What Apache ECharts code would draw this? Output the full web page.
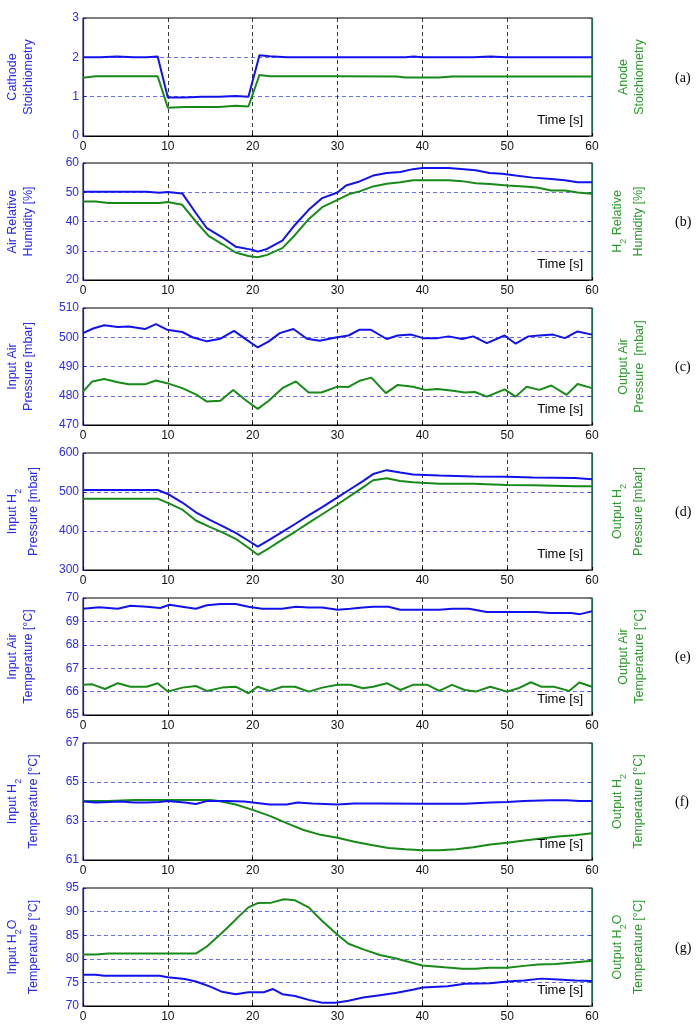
<!DOCTYPE html>
<html>
<head>
<meta charset="utf-8">
<script src="https://cdn.jsdelivr.net/npm/echarts@6/dist/echarts.min.js"></script>
<style>
html, body { margin: 0; padding: 0; background: #fff; }
#main { width: 696px; height: 1031px; }
</style>
</head>
<body>
<div id="main"></div>
<script>
// (a) stoichiometry
const tCathode = [0, 2, 4, 6, 7.5, 8.8, 10, 12, 14, 16, 18, 19.5, 20.8, 22, 24, 30, 38, 39, 40, 46, 48, 50, 60]
const cathode = [2.0, 2.0, 2.02, 2.0, 2.0, 2.02, 0.98, 0.98, 1.0, 1.0, 1.02, 1.0, 2.05, 2.03, 2.0, 2.0, 2.0, 2.02, 2.0, 2.0, 2.02, 2.0, 2.0]
const tAnode = [0, 1.5, 8.8, 10, 12, 16, 18, 19.5, 20.8, 22, 30, 37, 38, 42, 43.5, 60]
const anode = [1.48, 1.52, 1.52, 0.72, 0.74, 0.74, 0.77, 0.75, 1.55, 1.52, 1.52, 1.51, 1.49, 1.49, 1.51, 1.51]

// (b) relative humidity
const tAirRH = [0, 7.5, 9, 10, 11.7, 13.3, 14.6, 16.4, 18, 20, 20.6, 21.7, 23.5, 25, 26.6, 28.2, 30, 31, 32.6, 34.2, 35.8, 37.4, 38.9, 40, 43.1, 46.3, 47.9, 49.4, 51, 53, 55.2, 56.8, 58.3, 60]
const airRH = [50.2, 50.2, 49.8, 50.1, 49.6, 42.9, 37.7, 34.6, 31.4, 30.3, 29.7, 30.6, 33.5, 38.9, 44, 48, 49.9, 52.3, 53.7, 55.7, 56.6, 56.9, 57.9, 58.3, 58.3, 57.5, 56.6, 56.3, 55.7, 55, 54.5, 54.1, 53.4, 53.4]
const tH2RH = [0, 1.5, 3, 9, 10, 11.7, 13.3, 14.8, 16.4, 18, 19.5, 20.6, 21.7, 23.5, 25, 26.6, 28.2, 30, 31.5, 32.6, 34.2, 35.8, 37.4, 38.9, 40, 43.1, 44.7, 46.3, 48, 50, 52, 53.5, 55.2, 56.8, 58.3, 60]
const h2RH = [46.8, 46.8, 46.3, 46.3, 46.7, 45.7, 40, 35.1, 32.3, 29.4, 28.2, 27.8, 28.6, 30.9, 35.4, 40.8, 44.9, 47.4, 49.5, 50.3, 52, 52.9, 53.4, 54.1, 54.1, 54.1, 53.8, 53.1, 52.8, 52.3, 52, 51.6, 50.6, 50.6, 49.9, 49.5]

// (c) air pressure
const tInAir = [0, 1.2, 2.5, 4.1, 5.4, 7.3, 8.6, 9.9, 11.7, 13, 14.6, 16.2, 17.8, 19.3, 20.6, 21.9, 23.2, 24.8, 26.4, 27.9, 29.8, 31.3, 32.6, 33.9, 35.8, 37.1, 38.7, 40.1, 41.8, 43.1, 44.7, 46, 47.6, 49.7, 51, 52.5, 53.8, 55.4, 56.8, 58.3, 60]
const inAir = [501.4, 503, 504.1, 503.5, 503.7, 502.8, 504.5, 502.6, 501.8, 499.9, 498.6, 499.5, 502.2, 499.1, 496.5, 498.6, 501.4, 502.8, 499.5, 498.8, 499.9, 500.6, 502.6, 502.6, 499.4, 500.6, 500.9, 499.7, 499.7, 500.3, 499.4, 500.3, 498, 500.6, 497.8, 500.3, 500.6, 500.9, 499.7, 502, 500.9]
const tOutAir = [0, 1.1, 2.5, 4.1, 5.4, 7.3, 8.6, 9.9, 11.7, 13.3, 14.6, 16.2, 17.7, 19.3, 20.6, 21.9, 23.5, 25.1, 26.6, 28.1, 30, 31.3, 32.6, 34, 35.7, 37.1, 38.9, 40.3, 41.8, 43.6, 45, 46.2, 47.6, 49.7, 51, 52.3, 53.8, 55.2, 57, 58.3, 60]
const outAir = [481.4, 484.9, 485.7, 484.6, 483.9, 483.9, 485.2, 484.3, 482.6, 480.5, 478, 478.3, 482, 478.2, 475.5, 478.3, 482.6, 484.9, 481.1, 481.1, 483.1, 483, 485.1, 486.2, 480.9, 483.7, 483.1, 482, 482.3, 481.7, 481.1, 481.3, 479.7, 482.2, 479.7, 483.1, 482, 483.5, 480.3, 484, 482.6]

// (d) H2 pressure
const tH2P = [0, 8.8, 10, 11.7, 13.3, 15, 16.5, 18, 19.5, 20.6, 22, 23.5, 25, 26.6, 28.2, 30, 31.5, 33, 34.2, 35.8, 37.4, 38.9, 42, 46, 50, 53, 58, 60]
const inH2P = [505, 505, 495, 473, 448, 428, 412, 395, 375, 360, 378, 398, 418, 440, 461, 486, 507, 528, 546, 556, 550, 545, 542, 540, 539, 537, 536, 533]
const outH2P = [483, 483, 472, 455, 427, 410, 396, 380, 357, 339, 357, 378, 398, 421, 443, 468, 490, 512, 530, 535, 528, 525, 521, 521, 518, 517, 515, 515]

// (e) air temperature
const tInAirT = [0, 1.9, 4.1, 5.6, 7.5, 9.1, 10.2, 11.7, 13.3, 14.6, 16.2, 18, 19.5, 21.1, 23.5, 25.1, 26.6, 28.2, 30, 31.5, 33, 34.2, 36, 37.4, 40, 42, 43.5, 45.5, 47.6, 50, 53.5, 55, 57.5, 58.6, 60]
const inAirT = [69.54, 69.6, 69.54, 69.67, 69.63, 69.57, 69.71, 69.63, 69.54, 69.69, 69.74, 69.74, 69.63, 69.54, 69.54, 69.63, 69.59, 69.59, 69.5, 69.54, 69.59, 69.63, 69.63, 69.5, 69.5, 69.5, 69.54, 69.54, 69.4, 69.4, 69.4, 69.36, 69.36, 69.31, 69.43]
const tOutAirT = [0, 1.1, 2.6, 4.1, 5.6, 7.5, 8.8, 10, 11.7, 13.3, 14.6, 16.4, 18, 19.5, 20.6, 22, 23.5, 25, 26.6, 28.2, 30, 31.5, 33, 34.2, 35.8, 37.4, 38.9, 40.6, 42, 43.5, 45, 46.3, 48, 50, 51.3, 52.8, 54, 55.5, 57.3, 58.5, 60]
const outAirT = [66.29, 66.31, 66.11, 66.36, 66.21, 66.21, 66.36, 66.0, 66.17, 66.24, 66.03, 66.17, 66.21, 65.93, 66.21, 66.03, 66.21, 66.21, 66.0, 66.17, 66.29, 66.29, 66.14, 66.21, 66.36, 66.07, 66.29, 66.29, 66.03, 66.29, 66.07, 66.0, 66.21, 66.0, 66.14, 66.4, 66.21, 66.21, 66.03, 66.39, 66.21]

// (f) H2 temperature
const tInH2T = [0, 1.5, 3, 4.5, 6, 7.5, 9, 10, 12, 13.3, 14.6, 17, 19, 20, 22, 24, 25.3, 27, 30, 32, 35, 40, 45, 48, 50, 52, 55, 57, 58.5, 60]
const inH2T = [64.0, 63.95, 63.97, 64.0, 63.95, 63.95, 63.98, 64.02, 63.95, 63.87, 64.02, 64.02, 64.0, 63.95, 63.85, 63.85, 63.95, 63.9, 63.85, 63.9, 63.9, 63.88, 63.88, 63.95, 63.98, 64.03, 64.07, 64.07, 64.02, 64.02]
const tOutH2T = [0, 3, 6, 10, 15, 16, 18, 20, 22, 24, 26, 28, 30, 32, 34, 36, 38, 40, 42, 44, 46, 48, 50, 52, 54, 56, 58, 60]
const outH2T = [64.03, 64.03, 64.08, 64.08, 64.08, 64.03, 63.85, 63.57, 63.26, 62.89, 62.54, 62.29, 62.14, 61.94, 61.77, 61.62, 61.55, 61.5, 61.5, 61.55, 61.65, 61.8, 61.88, 62.0, 62.1, 62.2, 62.27, 62.37]

// (g) H2O temperature
const tInH2OT = [0, 1.5, 2.5, 9, 10, 12, 13.3, 15, 16.4, 18, 19.5, 21.3, 22.4, 23.5, 25, 26.6, 28.2, 29.8, 31.3, 33, 35, 37, 39, 40, 43, 45, 48, 50, 52, 54, 56, 58, 60]
const inH2OT = [76.6, 76.6, 76.4, 76.4, 76.1, 75.7, 75.2, 74.1, 73.0, 72.5, 72.9, 72.9, 73.6, 72.5, 72.1, 71.3, 70.7, 70.7, 71.1, 71.8, 72.3, 72.8, 73.5, 73.9, 74.2, 74.7, 74.8, 75.2, 75.4, 75.8, 75.6, 75.4, 75.3]
const tOutH2OT = [0, 1.5, 3, 13.3, 14.6, 15.9, 17.2, 18.5, 19.5, 20.6, 22.2, 23.7, 25, 26.6, 28.2, 30, 31.3, 33.2, 35, 36.8, 38.9, 40, 42.6, 44.7, 46.3, 47.8, 50, 52, 53.6, 55.7, 57.8, 60]
const outH2OT = [80.9, 80.9, 81.1, 81.1, 82.6, 84.7, 86.9, 89.2, 90.9, 91.8, 91.9, 92.6, 92.4, 90.9, 88.0, 85.1, 83.2, 81.9, 80.8, 80.1, 79.1, 78.6, 78.2, 77.9, 77.9, 78.1, 78.1, 78.5, 78.8, 78.9, 79.2, 79.6]

const timeTicks = { min: 0, max: 60, interval: 10 }

const panels = [
  { label: '(a)', left: 'Cathode\nStoichiometry', right: 'Anode\nStoichiometry', min: 0, max: 3, interval: 1,
    blue: [tCathode, cathode], green: [tAnode, anode] },
  { label: '(b)', left: 'Air Relative\nHumidity [%]', right: 'H{s|2} Relative\nHumidity [%]', min: 20, max: 60, interval: 10,
    blue: [tAirRH, airRH], green: [tH2RH, h2RH] },
  { label: '(c)', left: 'Input Air\nPressure [mbar]', right: 'Output Air\nPressure  [mbar]', min: 470, max: 510, interval: 10,
    blue: [tInAir, inAir], green: [tOutAir, outAir] },
  { label: '(d)', left: 'Input H{s|2}\nPressure [mbar]', right: 'Output H{s|2}\nPressure [mbar]', min: 300, max: 600, interval: 100,
    blue: [tH2P, inH2P], green: [tH2P, outH2P] },
  { label: '(e)', left: 'Input Air\nTemperature [°C]', right: 'Output Air\nTemperature [°C]', min: 65, max: 70, interval: 1,
    blue: [tInAirT, inAirT], green: [tOutAirT, outAirT] },
  { label: '(f)', left: 'Input H{s|2}\nTemperature [°C]', right: 'Output H{s|2}\nTemperature [°C]', min: 61, max: 67, interval: 2,
    blue: [tInH2T, inH2T], green: [tOutH2T, outH2T] },
  { label: '(g)', left: 'Input H{s|2}O\nTemperature [°C]', right: 'Output H{s|2}O\nTemperature [°C]', min: 70, max: 95, interval: 5,
    blue: [tInH2OT, inH2OT], green: [tOutH2OT, outH2OT] }
]

const tops = [18, 163, 308, 453, 598, 743, 888]
const heights = [118, 117, 117, 117, 117, 117, 118]

const FONT = 'Liberation Sans, Arial, sans-serif'
const BLUE = '#1212ee'
const BLUE_TXT = '#2a2af0'
const GREEN = '#178a17'
const GREEN_TXT = '#2a9a2a'

const zip = (t, v) => t.map((x, k) => [x, v[k]])
const hasSub = (s) => s.indexOf('{s|') >= 0

function nameStyle (color, sub) {
  return {
    color: color,
    fontSize: 12.5,
    fontFamily: FONT,
    lineHeight: sub ? 21 : 16,
    rich: { s: { color: color, fontSize: 9, fontFamily: FONT, lineHeight: 8, verticalAlign: 'bottom' } }
  }
}

const grid = []
const xAxis = []
const yAxis = []
const series = []
const title = []

panels.forEach((p, i) => {
  const subL = hasSub(p.left)
  const subR = hasSub(p.right)
  grid.push({
    left: 83, right: 104, top: tops[i], height: heights[i],
    outerBoundsMode: 'none', containLabel: false,
    show: true, borderColor: '#000', borderWidth: 1, backgroundColor: '#fff'
  })
  xAxis.push({
    type: 'value', gridIndex: i, min: timeTicks.min, max: timeTicks.max, interval: timeTicks.interval,
    axisLine: { show: true, onZero: false, lineStyle: { color: '#000', width: 1 } },
    axisTick: { show: true, inside: true, length: 3, lineStyle: { color: '#000' } },
    axisLabel: { color: '#111', fontSize: 12, fontFamily: FONT, margin: 5 },
    splitLine: { show: true, showMinLine: false, showMaxLine: false, lineStyle: { color: '#222', type: [4, 3], width: 0.9 } }
  })
  yAxis.push({
    type: 'value', gridIndex: i, position: 'left', min: p.min, max: p.max, interval: p.interval,
    axisLine: { show: true, onZero: false, lineStyle: { color: BLUE, width: 1.2 } },
    axisTick: { show: true, inside: true, length: 3, lineStyle: { color: BLUE } },
    axisLabel: { color: BLUE_TXT, fontSize: 12, fontFamily: FONT, margin: 4 },
    splitLine: { show: true, showMinLine: false, showMaxLine: false, lineStyle: { color: '#5c5cf0', type: [4, 3], width: 0.9 } },
    name: p.left, nameLocation: 'middle', nameGap: subL ? 39 : 46, nameRotate: 90,
    nameTextStyle: nameStyle(BLUE_TXT, subL)
  })
  yAxis.push({
    type: 'value', gridIndex: i, position: 'right', min: p.min, max: p.max, interval: p.interval,
    axisLine: { show: true, onZero: false, lineStyle: { color: '#1d6a55', width: 1.2 } },
    axisTick: { show: true, inside: true, length: 3, lineStyle: { color: '#1d6a55' } },
    axisLabel: { show: false },
    splitLine: { show: false },
    name: p.right, nameLocation: 'middle', nameGap: subR ? 15 : 24, nameRotate: 90,
    nameTextStyle: nameStyle(GREEN_TXT, subR)
  })
  series.push({
    type: 'line', xAxisIndex: i, yAxisIndex: 2 * i, data: zip(p.blue[0], p.blue[1]),
    showSymbol: false, lineStyle: { color: BLUE, width: 2 }, itemStyle: { color: BLUE }, z: 3
  })
  series.push({
    type: 'line', xAxisIndex: i, yAxisIndex: 2 * i + 1, data: zip(p.green[0], p.green[1]),
    showSymbol: false, lineStyle: { color: GREEN, width: 2 }, itemStyle: { color: GREEN }, z: 2
  })
  const bottom = tops[i] + heights[i]
  title.push({
    text: 'Time [s]', right: 113, top: bottom - 22, padding: 0,
    textStyle: { color: '#000', fontSize: 13, fontWeight: 'normal', fontFamily: FONT }
  })
  title.push({
    text: p.label, left: 675, top: tops[i] + heights[i] / 2 - 6, padding: 0,
    textStyle: { color: '#000', fontSize: 14, fontWeight: 'normal', fontFamily: 'Liberation Serif, Times New Roman, serif' }
  })
})

const myChart = echarts.init(document.getElementById('main'), null, { renderer: 'canvas' })
myChart.setOption({
  animation: false,
  backgroundColor: '#fff',
  title: title,
  grid: grid,
  xAxis: xAxis,
  yAxis: yAxis,
  series: series
})
</script>
</body>
</html>
